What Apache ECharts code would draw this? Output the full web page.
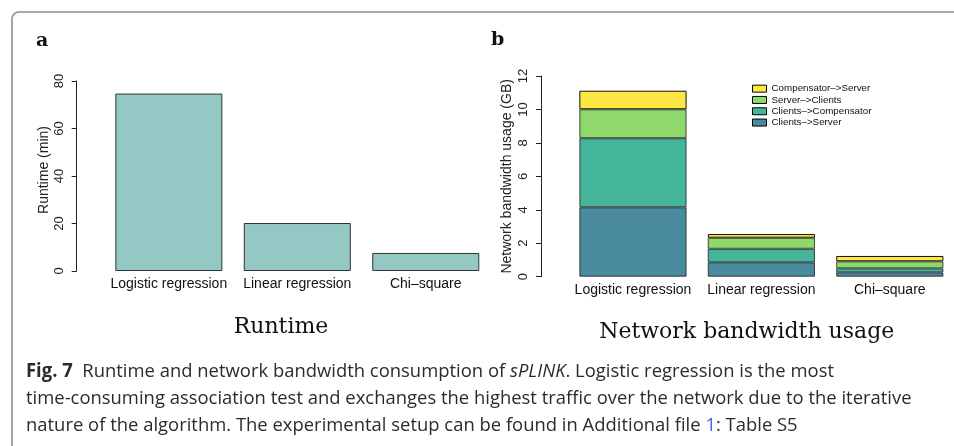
<!DOCTYPE html>
<html>
<head>
<meta charset="utf-8">
<script src="https://cdn.jsdelivr.net/npm/echarts@6/dist/echarts.min.js"></script>
<style>
html, body { margin: 0; padding: 0; background: #fff; }
#main { width: 954px; height: 446px; }
</style>
</head>
<body>
<div id="main"></div>
<script>
var myChart = echarts.init(document.getElementById('main'));

// categories (same for both panels)
var tests = ['Logistic regression', 'Linear regression', 'Chi\u2013square'];

// panel a: runtime in minutes
var runtimeMin = [74.7, 20.2, 7.6];

// panel b: network traffic in GB, stacked bottom -> top
var flowNames = ['Clients\u2013>Server', 'Clients\u2013>Compensator', 'Server\u2013>Clients', 'Compensator\u2013>Server'];
var clientsToServer = [4.15, 0.86, 0.26];
var clientsToCompensator = [4.13, 0.81, 0.24];
var serverToClients = [1.73, 0.66, 0.42];
var compensatorToServer = [1.11, 0.22, 0.32];
var flowValues = [clientsToServer, clientsToCompensator, serverToClients, compensatorToServer];
var flowColors = ['#4a8a9e', '#44b598', '#8ed86c', '#fde843'];

var sans = 'Liberation Sans, Arial, sans-serif';
var serif = 'DejaVu Serif, serif';
var capFont = 'Open Sans, sans-serif';
var capSize = 19;
var capScale = 0.97;

var yAxisBase = {
  type: 'value',
  min: 0,
  splitLine: { show: false },
  axisLine: { show: true, lineStyle: { color: '#222', width: 1 } },
  axisTick: { show: true, length: 5, lineStyle: { color: '#222' } },
  axisLabel: { rotate: 90, fontFamily: sans, fontSize: 13, color: '#222', margin: 11 },
  nameLocation: 'middle',
  nameTextStyle: { fontFamily: sans, fontSize: 14, color: '#222' }
};

var xAxisBase = {
  type: 'category',
  data: tests,
  axisLine: { show: false },
  axisTick: { show: false },
  axisLabel: { interval: 0, fontFamily: sans, fontSize: 14, color: '#111', margin: 6, lineHeight: 14 }
};

var series = [{
  name: 'Runtime',
  type: 'bar',
  xAxisIndex: 0,
  yAxisIndex: 0,
  barCategoryGap: '16.7%',
  data: runtimeMin,
  itemStyle: { color: '#93c8c4', borderColor: '#333', borderWidth: 1 }
}];

flowNames.forEach(function (name, i) {
  series.push({
    name: name,
    type: 'bar',
    stack: 'traffic',
    xAxisIndex: 1,
    yAxisIndex: 1,
    barCategoryGap: '16.5%',
    data: flowValues[i],
    itemStyle: {
      color: flowColors[i],
      borderColor: i === 3 ? '#111' : 'rgba(20,20,20,0.75)',
      borderWidth: 1
    }
  });
});

var option = {
  animation: false,
  grid: [
    { left: 104.6, right: 464, top: 81, bottom: 175 },
    { left: 568.75, right: 0, top: 76, bottom: 169.3 }
  ],
  xAxis: [
    Object.assign({ gridIndex: 0 }, xAxisBase),
    Object.assign({ gridIndex: 1 }, xAxisBase)
  ],
  yAxis: [
    Object.assign({}, yAxisBase, {
      gridIndex: 0, max: 80, interval: 20, offset: 27.9,
      name: 'Runtime (min)', nameGap: 26,
      nameTextStyle: { fontFamily: sans, fontSize: 14, color: '#222', padding: [0, 0, 0, 12] }
    }),
    Object.assign({}, yAxisBase, {
      gridIndex: 1, max: 12, interval: 2, offset: 27.75,
      name: 'Network bandwidth usage (GB)', nameGap: 27
    })
  ],
  legend: {
    data: flowNames.slice().reverse(),
    orient: 'vertical',
    left: 752,
    top: 83,
    padding: 0,
    itemWidth: 14,
    itemHeight: 7,
    itemGap: 0,
    icon: 'rect',
    selectedMode: false,
    itemStyle: { borderColor: '#000', borderWidth: 1 },
    textStyle: { fontFamily: sans, fontSize: 9.8, color: '#111', lineHeight: 11.3 }
  },
  series: series,
  graphic: [
    {
      type: 'rect', silent: true,
      shape: { x: 12, y: 12, width: 1100, height: 600, r: 7 },
      style: { fill: 'none', stroke: '#8c8c8c', lineWidth: 1.6 }
    },
    {
      type: 'text', x: 36, y: 41,
      style: { text: 'a', font: 'bold 19px DejaVu Serif', fill: '#111', verticalAlign: 'middle' }
    },
    {
      type: 'text', x: 491, y: 40,
      style: { text: 'b', font: 'bold 19px DejaVu Serif', fill: '#111', verticalAlign: 'middle' }
    },
    {
      type: 'text', x: 281, y: 327,
      style: { text: 'Runtime', fontFamily: serif, fontSize: 22, fill: '#111', align: 'center', verticalAlign: 'middle' }
    },
    {
      type: 'text', x: 746.7, y: 332,
      style: { text: 'Network bandwidth usage', fontFamily: serif, fontSize: 22, fill: '#111', align: 'center', verticalAlign: 'middle' }
    },
    {
      type: 'text', x: 26, y: 371.7, scaleX: capScale,
      style: {
        text: '{b|Fig. 7}  Runtime and network bandwidth consumption of {i|sPLINK}. Logistic regression is the most',
        fontFamily: capFont, fontSize: capSize, fill: '#2b2b2b', verticalAlign: 'middle',
        rich: {
          b: { fontFamily: capFont, fontSize: capSize, fontWeight: 'bold', fill: '#2b2b2b' },
          i: { fontFamily: capFont, fontSize: capSize, fontStyle: 'italic', fill: '#2b2b2b' }
        }
      }
    },
    {
      type: 'text', x: 26, y: 398.3, scaleX: capScale,
      style: {
        text: 'time-consuming association test and exchanges the highest traffic over the network due to the iterative',
        fontFamily: capFont, fontSize: capSize, fill: '#2b2b2b', verticalAlign: 'middle'
      }
    },
    {
      type: 'text', x: 26, y: 426, scaleX: capScale,
      style: {
        text: 'nature of the algorithm. The experimental setup can be found in Additional file {l|1}: Table S5',
        fontFamily: capFont, fontSize: capSize, fill: '#2b2b2b', verticalAlign: 'middle',
        rich: {
          l: { fontFamily: capFont, fontSize: capSize, fill: '#4b5cf0' }
        }
      }
    }
  ]
};

myChart.setOption(option);
</script>
</body>
</html>
